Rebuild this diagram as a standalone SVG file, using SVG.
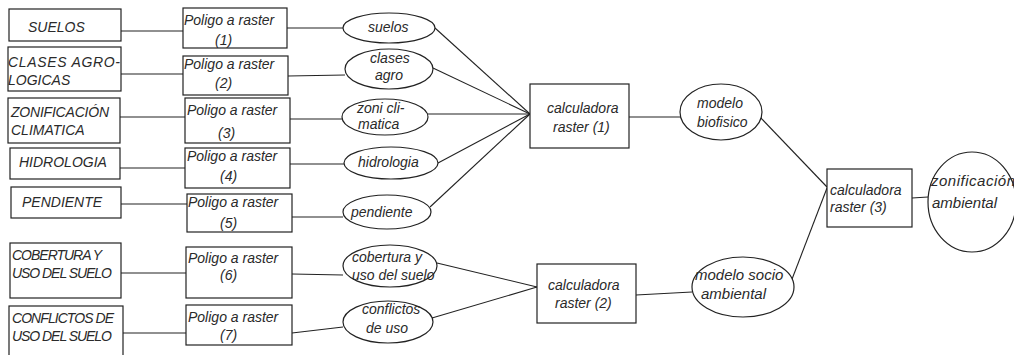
<svg xmlns="http://www.w3.org/2000/svg" width="1014" height="355" viewBox="0 0 1014 355">
<style>
.b{fill:#fff;stroke:#222;stroke-width:1.2}
.c{fill:none;stroke:#222;stroke-width:1.1}
text{font-family:"Liberation Sans",Arial,sans-serif;font-style:italic;font-size:14px;fill:#2a2a2a}
.big{font-size:15px}
</style>
<rect width="1014" height="355" fill="#fff"/>
<g id="connectors" class="c">
<line x1="121" y1="31" x2="183" y2="31"/>
<line x1="121" y1="74" x2="183" y2="74"/>
<line x1="120" y1="117" x2="185" y2="117"/>
<line x1="120" y1="168" x2="185" y2="168"/>
<line x1="121" y1="204" x2="187" y2="204"/>
<line x1="121" y1="273" x2="186" y2="273"/>
<line x1="123" y1="333" x2="186" y2="333"/>
<line x1="287" y1="28" x2="343" y2="28"/>
<line x1="288" y1="76" x2="345" y2="75"/>
<line x1="290" y1="119" x2="342" y2="119"/>
<line x1="290" y1="164" x2="345" y2="164"/>
<line x1="292" y1="217" x2="343" y2="217"/>
<line x1="292" y1="274" x2="343" y2="275"/>
<line x1="292" y1="333" x2="343" y2="327"/>
<line x1="435" y1="28" x2="530" y2="114"/>
<line x1="433" y1="68" x2="530" y2="114"/>
<line x1="427" y1="114" x2="530" y2="114"/>
<line x1="438" y1="163" x2="530" y2="114"/>
<line x1="430" y1="207" x2="530" y2="114"/>
<line x1="437" y1="263" x2="537" y2="287"/>
<line x1="432" y1="318" x2="537" y2="287"/>
<line x1="629" y1="117" x2="681" y2="117"/>
<line x1="636" y1="295" x2="692" y2="292"/>
<line x1="760" y1="117" x2="827" y2="187"/>
<line x1="789" y1="287" x2="827" y2="188"/>
<line x1="912" y1="198" x2="928" y2="197"/>
</g>
<g id="n-suelos"><rect class="b" x="9" y="9" width="112" height="32"/><text x="28" y="32">SUELOS</text></g>
<g id="n-clases"><rect class="b" x="8" y="47" width="113" height="44"/><text x="8" y="67" textLength="112">CLASES AGRO-</text><text x="8" y="85">LOGICAS</text></g>
<g id="n-zonif"><rect class="b" x="8" y="98" width="112" height="45"/><text x="11" y="117" textLength="98">ZONIFICACIÓN</text><text x="11" y="135">CLIMATICA</text></g>
<g id="n-hidro"><rect class="b" x="10" y="148" width="110" height="31"/><text x="19" y="167">HIDROLOGIA</text></g>
<g id="n-pend"><rect class="b" x="11" y="187" width="110" height="31"/><text x="22" y="207">PENDIENTE</text></g>
<g id="n-cob"><rect class="b" x="10" y="243" width="111" height="55"/><text x="12" y="260" textLength="90">COBERTURA Y</text><text x="12" y="278" textLength="100">USO DEL SUELO</text></g>
<g id="n-conf"><rect class="b" x="9" y="306" width="114" height="55"/><text x="12" y="323" textLength="102">CONFLICTOS DE</text><text x="12" y="341" textLength="100">USO DEL SUELO</text></g>
<g id="p1"><rect class="b" x="183" y="8" width="104" height="40"/><text x="184" y="25">Poligo a raster</text><text x="215" y="45">(1)</text></g>
<g id="p2"><rect class="b" x="183" y="56" width="105" height="39"/><text x="184" y="69">Poligo a raster</text><text x="215" y="88">(2)</text></g>
<g id="p3"><rect class="b" x="185" y="98" width="105" height="45"/><text x="187" y="115">Poligo a raster</text><text x="218" y="138">(3)</text></g>
<g id="p4"><rect class="b" x="185" y="148" width="105" height="40"/><text x="187" y="161">Poligo a raster</text><text x="220" y="181">(4)</text></g>
<g id="p5"><rect class="b" x="187" y="194" width="105" height="38"/><text x="188" y="207">Poligo a raster</text><text x="220" y="228">(5)</text></g>
<g id="p6"><rect class="b" x="186" y="247" width="106" height="51"/><text x="188" y="263">Poligo a raster</text><text x="220" y="280">(6)</text></g>
<g id="p7"><rect class="b" x="186" y="305" width="106" height="40"/><text x="188" y="322">Poligo a raster</text><text x="220" y="340">(7)</text></g>
<g id="e-suelos"><ellipse class="b" cx="389" cy="28" rx="46" ry="15"/><text x="368" y="32">suelos</text></g>
<g id="e-clases"><ellipse class="b" cx="389" cy="69" rx="44" ry="20"/><text x="370" y="63">clases</text><text x="375" y="80">agro</text></g>
<g id="e-zoni"><ellipse class="b" cx="385" cy="117" rx="43" ry="18"/><text x="357" y="113">zoni cli-</text><text x="358" y="129">matica</text></g>
<g id="e-hidro"><ellipse class="b" cx="391" cy="163" rx="47" ry="16"/><text x="358" y="167">hidrologia</text></g>
<g id="e-pend"><ellipse class="b" cx="387" cy="212" rx="44" ry="17"/><text x="351" y="217">pendiente</text></g>
<g id="e-cob"><ellipse class="b" cx="390" cy="266" rx="47" ry="21"/><text x="352" y="262">cobertura y</text><text x="352" y="280">uso del suelo</text></g>
<g id="e-conf"><ellipse class="b" cx="388" cy="322" rx="45" ry="21"/><text x="362" y="314">conflictos</text><text x="366" y="333">de uso</text></g>
<g id="calc1"><rect class="b" x="530" y="84" width="99" height="64"/><text x="547" y="113">calculadora</text><text x="553" y="132">raster (1)</text></g>
<g id="calc2"><rect class="b" x="537" y="264" width="99" height="59"/><text x="548" y="290">calculadora</text><text x="555" y="308">raster (2)</text></g>
<g id="e-bio"><ellipse class="b" cx="721" cy="112" rx="41" ry="28"/><text x="697" y="108">modelo</text><text x="697" y="127">biofisico</text></g>
<g id="e-socio"><ellipse class="b" cx="743" cy="287" rx="51" ry="30"/><text class="big" x="695" y="280">modelo socio</text><text class="big" x="701" y="299">ambiental</text></g>
<g id="calc3"><rect class="b" x="827" y="169" width="85" height="58"/><text x="830" y="195">calculadora</text><text x="830" y="212">raster (3)</text></g>
<g id="e-zonamb"><ellipse class="b" cx="972" cy="202" rx="44" ry="50"/><text class="big" x="931" y="186" textLength="84">zonificación</text><text class="big" x="932" y="208">ambiental</text></g>
</svg>
